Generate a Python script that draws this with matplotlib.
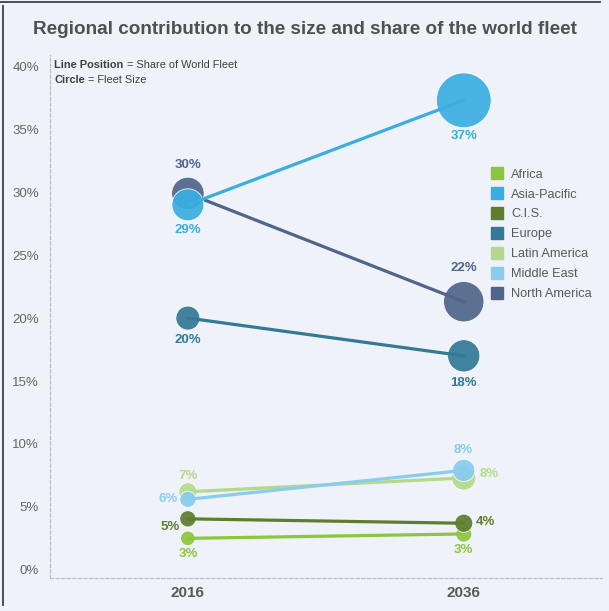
import numpy as np
import matplotlib.pyplot as plt
from matplotlib.lines import Line2D

plt.rcParams['font.family'] = ['Liberation Sans', 'DejaVu Sans']

years = ['2016', '2036']
regions = ['Africa', 'Asia-Pacific', 'C.I.S.', 'Europe', 'Latin America', 'Middle East', 'North America']
colors = ['#8cc63f', '#3aaee2', '#5e7d2e', '#327a96', '#b5d98b', '#88ccee', '#4f6589']

share_2016 = [2.5, 29.0, 4.05, 20.0, 6.2, 5.6, 29.9]
share_2036 = [2.85, 37.3, 3.7, 17.0, 7.3, 7.9, 21.3]
fleet_2016 = [1300, 6200, 1600, 3500, 2000, 1600, 6400]
fleet_2036 = [1600, 18200, 2000, 6300, 3600, 3000, 9900]
# printed labels
labels_2016 = ['3%', '29%', '5%', '20%', '7%', '6%', '30%']
labels_2036 = ['3%', '37%', '4%', '18%', '8%', '8%', '22%']

# label placement (dx px, dy px) per region, per year
lab_pos_2016 = [(0, -16), (0, -25), (-18, -8), (0, -22), (0, 16), (-20, 0), (0, 28)]
lab_pos_2036 = [(0, -16), (0, -36), (22, 1), (0, -27), (25, 4), (-1, 20), (0, 34)]

bg = '#eff2f8'
fig = plt.figure(figsize=(6.09, 6.11), dpi=100, facecolor=bg)
ax = fig.add_axes([0.082, 0.054, 0.906, 0.856], facecolor=bg)

x = np.array([0, 1])
k = 0.0856
draw_order = [0, 2, 4, 5, 3, 6, 1]
for n, i in enumerate(draw_order):
    ys = [share_2016[i], share_2036[i]]
    sz = [fleet_2016[i] * k, fleet_2036[i] * k]
    ax.scatter(x, ys, s=sz, color=colors[i], alpha=0.92, edgecolors='white', linewidths=0.6, zorder=2 + n * 0.1)
    ax.plot(x, ys, color=colors[i], lw=2.3, solid_capstyle='round', zorder=2.05 + n * 0.1)

for i in range(len(regions)):
    for xi, val, lab, pos in [(0, share_2016[i], labels_2016[i], lab_pos_2016[i]),
                              (1, share_2036[i], labels_2036[i], lab_pos_2036[i])]:
        ax.annotate(lab, (xi, val), xytext=(pos[0] * 0.72, pos[1] * 0.72), textcoords='offset points',
                    ha='center', va='center', fontsize=9.5, fontweight='bold', color=colors[i], zorder=5)

ax.set_xlim(-0.5, 1.5)
ax.set_ylim(-0.65, 40.9)
ax.set_xticks(x)
ax.set_xticklabels(years, fontsize=11, fontweight='bold', color='#595959')
ax.set_yticks(range(0, 41, 5))
ax.set_yticklabels([f'{v}%' for v in range(0, 41, 5)], fontsize=9.5, color='#666666')
ax.tick_params(length=0, axis='y', pad=8)
ax.tick_params(length=0, axis='x', pad=6)
for s in ['top', 'right']:
    ax.spines[s].set_visible(False)
for s in ['left', 'bottom']:
    ax.spines[s].set_linestyle((0, (3, 2)))
    ax.spines[s].set_color('#b8bcc8')
    ax.spines[s].set_linewidth(0.8)

t1 = ax.text(0.008, 0.99, 'Line Position', transform=ax.transAxes, fontsize=7.9,
             fontweight='bold', color='#404040', va='top')
ax.annotate(' = Share of World Fleet', xy=(1, 0), xycoords=t1, va='bottom', fontsize=7.9, color='#404040')
t2 = ax.text(0.008, 0.962, 'Circle', transform=ax.transAxes, fontsize=7.9,
             fontweight='bold', color='#404040', va='top')
ax.annotate(' = Fleet Size', xy=(1, 0), xycoords=t2, va='bottom', fontsize=7.9, color='#404040')

handles = [Line2D([], [], marker='s', ls='none', color=c, markersize=8) for c in colors]
fig.legend(handles, regions, loc='upper left', bbox_to_anchor=(0.807, 0.724), frameon=False,
           fontsize=9.2, labelcolor='#595959', handlelength=0.8, handletextpad=0.75, labelspacing=0.62,
           borderpad=0, borderaxespad=0)

fig.text(0.5, 0.951, 'Regional contribution to the size and share of the world fleet', ha='center',
         va='center', fontsize=13.6, fontweight='bold', color='#505050')

# outer frame lines
fig.add_artist(Line2D([0, 0.985], [0.996, 0.996], transform=fig.transFigure, color='#3c4150', lw=1.3))
fig.add_artist(Line2D([0.005, 0.005], [0.01, 0.99], transform=fig.transFigure, color='#3c4150', lw=1.3))

fig.savefig('out.png', dpi=100, facecolor=bg)
